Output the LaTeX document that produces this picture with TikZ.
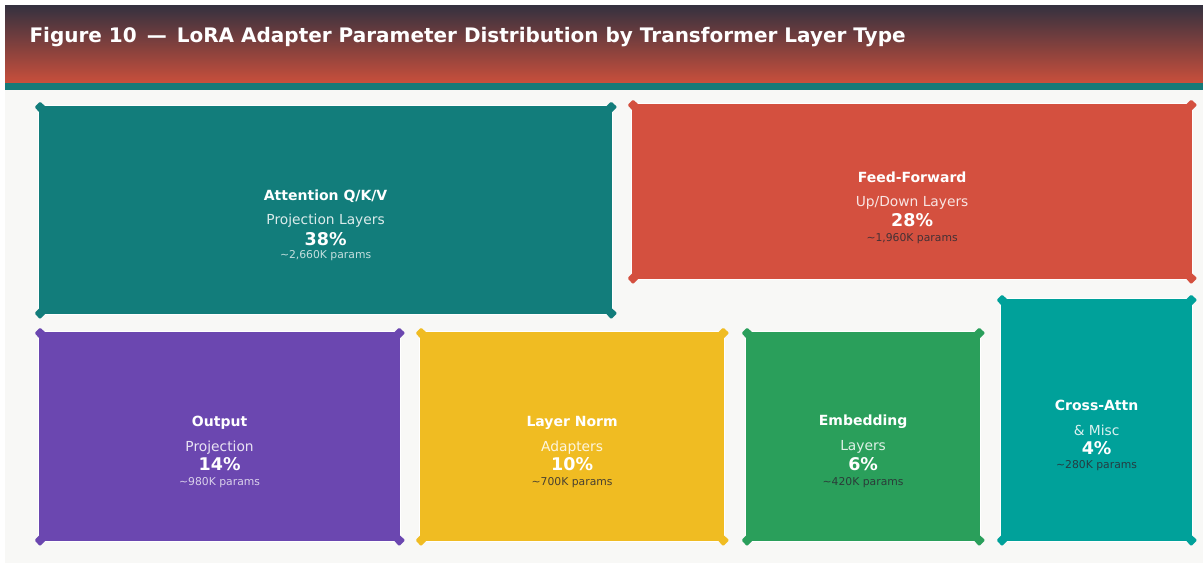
\documentclass[tikz,border=0pt]{standalone}
\usepackage{fontspec}
\setmainfont{DejaVu Sans}
\usetikzlibrary{calc}
\definecolor{hdtop}{HTML}{34313F}
\definecolor{hdbot}{HTML}{C94F3C}
\definecolor{band}{HTML}{157A78}
\definecolor{paper}{HTML}{F8F8F6}
\definecolor{cattn}{HTML}{127D7B}
\definecolor{cff}{HTML}{D4503F}
\definecolor{cout}{HTML}{6B47B0}
\definecolor{cnorm}{HTML}{F0BC22}
\definecolor{cemb}{HTML}{2A9F5B}
\definecolor{ccross}{HTML}{00A19A}
\definecolor{inkdark}{HTML}{2B2B33}
% small flared corner marks on every tile
\newcommand\boxears[2]{%
  \foreach \an/\dx/\dy in {north west/2/2, north east/-2/2, south west/2/-2, south east/-2/-2}{
    \fill[#2, rounded corners=1.2pt] ($(#1.\an)+(\dx,\dy)$) ++(6,0) -- ++(-6,-5.5) -- ++(-5.5,5.5) -- ++(5.5,6) -- cycle;
  }%
}
\begin{document}
\begin{tikzpicture}[x=1pt,y=-1pt,
  tile/.style={draw=white, line width=1.2pt, anchor=north west, inner sep=0pt},
  ttl/.style={text=white, font=\fontsize{14}{16}\selectfont\bfseries},
  sub/.style={text=white, text opacity=0.85, font=\fontsize{13.8}{16}\selectfont},
  pct/.style={text=white, font=\fontsize{17.5}{20}\selectfont\bfseries},
  prm/.style={font=\fontsize{10.8}{12}\selectfont},
  prmlight/.style={prm, text=white, text opacity=0.75},
  prmdark/.style={prm, text=inkdark, text opacity=0.85}]
\useasboundingbox (0,0) rectangle (1203,563);
\fill[white] (0,0) rectangle (1203,563);
\fill[paper] (5,90) rectangle (1203,563);
\shade[top color=hdtop, bottom color=hdbot] (5,5) rectangle (1203,83);
\fill[band] (5,83) rectangle (1203,90);
\node[anchor=west, text=white, font=\fontsize{20}{24}\selectfont\bfseries] (title) at (26,37)
  {Figure 10\enspace—\enspace LoRA Adapter Parameter Distribution by Transformer Layer Type};

% tiles
\node[tile, fill=cattn, minimum width=574pt, minimum height=209pt] (attn) at (38,105) {};
\node[tile, fill=cff, minimum width=561pt, minimum height=176pt] (ff) at (631,103) {};
\node[tile, fill=cout, minimum width=362pt, minimum height=210pt] (out) at (38,331) {};
\node[tile, fill=cnorm, minimum width=305pt, minimum height=210pt] (norm) at (419,331) {};
\node[tile, fill=cemb, minimum width=235pt, minimum height=210pt] (emb) at (745,331) {};
\node[tile, fill=ccross, minimum width=192pt, minimum height=243pt] (cross) at (1000,298) {};

\boxears{attn}{cattn}
\boxears{ff}{cff}
\boxears{out}{cout}
\boxears{norm}{cnorm}
\boxears{emb}{cemb}
\boxears{cross}{ccross}

% labels
\node[ttl] (attn-t) at ($(attn.center)+(0,-14)$) {Attention Q/K/V};
\node[sub] (attn-s) at ($(attn.center)+(0,11)$) {Projection Layers};
\node[pct] (attn-p) at ($(attn.center)+(0,29)$) {38\%};
\node[prmlight] (attn-n) at ($(attn.center)+(0,46)$) {\textasciitilde 2,660K params};

\node[ttl] (ff-t) at ($(ff.center)+(0,-14)$) {Feed-Forward};
\node[sub] (ff-s) at ($(ff.center)+(0,11)$) {Up/Down Layers};
\node[pct] (ff-p) at ($(ff.center)+(0,29)$) {28\%};
\node[prmdark] (ff-n) at ($(ff.center)+(0,47)$) {\textasciitilde 1,960K params};

\node[ttl] (out-t) at ($(out.center)+(0,-14)$) {Output};
\node[sub] (out-s) at ($(out.center)+(0,11)$) {Projection};
\node[pct] (out-p) at ($(out.center)+(0,28)$) {14\%};
\node[prmlight] (out-n) at ($(out.center)+(0,46)$) {\textasciitilde 980K params};

\node[ttl] (norm-t) at ($(norm.center)+(0,-14)$) {Layer Norm};
\node[sub] (norm-s) at ($(norm.center)+(0,11)$) {Adapters};
\node[pct] (norm-p) at ($(norm.center)+(0,28)$) {10\%};
\node[prmdark] (norm-n) at ($(norm.center)+(0,46)$) {\textasciitilde 700K params};

\node[ttl] (emb-t) at ($(emb.center)+(0,-15)$) {Embedding};
\node[sub] (emb-s) at ($(emb.center)+(0,10)$) {Layers};
\node[pct] (emb-p) at ($(emb.center)+(0,28)$) {6\%};
\node[prmdark] (emb-n) at ($(emb.center)+(0,46)$) {\textasciitilde 420K params};

\node[ttl] (cross-t) at ($(cross.center)+(0,-15)$) {Cross-Attn};
\node[sub] (cross-s) at ($(cross.center)+(0,10)$) {\& Misc};
\node[pct] (cross-p) at ($(cross.center)+(0,28)$) {4\%};
\node[prmdark] (cross-n) at ($(cross.center)+(0,46)$) {\textasciitilde 280K params};
\end{tikzpicture}
\end{document}
